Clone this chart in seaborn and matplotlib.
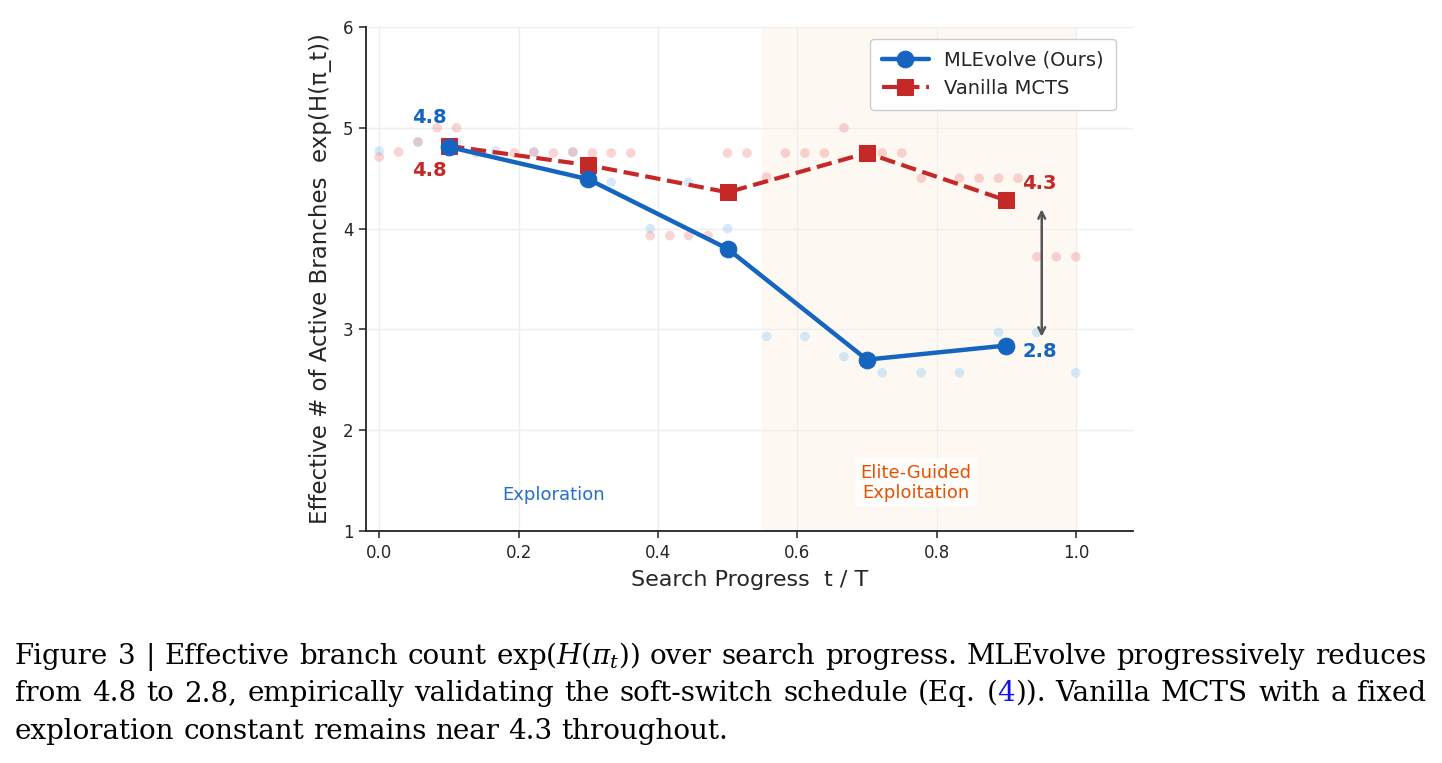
import numpy as np
import pandas as pd
import matplotlib
matplotlib.use("Agg")
import matplotlib.pyplot as plt
import seaborn as sns

# ---------------- data ----------------
checkpoints = [0.1, 0.3, 0.5, 0.7, 0.9]
mlevolve_mean = [4.81, 4.49, 3.80, 2.70, 2.84]
mcts_mean = [4.82, 4.63, 4.36, 4.75, 4.28]

mlevolve_run_x = [0.0, 0.0556, 0.111, 0.167, 0.222, 0.278, 0.333, 0.389, 0.444, 0.5,
                  0.556, 0.611, 0.667, 0.722, 0.778, 0.833, 0.889, 0.944, 1.0]
mlevolve_run_y = [4.77, 4.86, 4.86, 4.77, 4.76, 4.76, 4.46, 4.00, 4.46, 4.00,
                  2.93, 2.93, 2.73, 2.57, 2.57, 2.57, 2.97, 2.97, 2.57]

mcts_run_x = [0.0, 0.0278, 0.0556, 0.0833, 0.111, 0.139, 0.194, 0.222, 0.25, 0.278,
              0.306, 0.333, 0.361, 0.389, 0.417, 0.444, 0.472, 0.5, 0.528, 0.556,
              0.583, 0.611, 0.639, 0.667, 0.722, 0.75, 0.778, 0.833, 0.861, 0.889,
              0.917, 0.944, 0.972, 1.0]
mcts_run_y = [4.71, 4.76, 4.86, 5.00, 5.00, 4.75, 4.75, 4.76, 4.75, 4.76,
              4.75, 4.75, 4.75, 3.93, 3.93, 3.93, 3.93, 4.75, 4.75, 4.51,
              4.75, 4.75, 4.75, 5.00, 4.75, 4.75, 4.50, 4.50, 4.50, 4.50,
              4.50, 3.72, 3.72, 3.72]

series_names = ["MLEvolve (Ours)", "Vanilla MCTS"]
start_labels = ["4.8", "4.8"]
end_labels = ["2.8", "4.3"]
x_ticks = [0.0, 0.2, 0.4, 0.6, 0.8, 1.0]
y_ticks = [1, 2, 3, 4, 5, 6]

BLUE = "#1565C0"
RED = "#C62828"

sns.set_theme(style="whitegrid")
plt.rcParams["font.family"] = ["DejaVu Sans"]
plt.rcParams["mathtext.fontset"] = "dejavuserif"

fig = plt.figure(figsize=(14.42, 7.63), dpi=100)
ax = fig.add_axes([366 / 1442, 1 - 531 / 763, (1133 - 366) / 1442, (531 - 27) / 763])
ax.set_facecolor("white")

# shaded exploitation region
ax.axvspan(0.55, 1.0, color="#FDF3E6", alpha=0.55, lw=0, zorder=0)

# faint per-step points
df_b = pd.DataFrame({"x": mlevolve_run_x, "y": mlevolve_run_y})
df_r = pd.DataFrame({"x": mcts_run_x, "y": mcts_run_y})
sns.scatterplot(data=df_b, x="x", y="y", color="#90CAF9", alpha=0.38, s=48,
                edgecolor="none", ax=ax, zorder=2, legend=False)
sns.scatterplot(data=df_r, x="x", y="y", color="#EF9A9A", alpha=0.42, s=48,
                edgecolor="none", ax=ax, zorder=2, legend=False)

# main lines
df_m = pd.DataFrame({"x": checkpoints, "y": mlevolve_mean})
df_v = pd.DataFrame({"x": checkpoints, "y": mcts_mean})
sns.lineplot(data=df_m, x="x", y="y", color=BLUE, marker="o", markersize=12,
             markeredgecolor=BLUE, linewidth=3.2, label=series_names[0], ax=ax, zorder=5)
sns.lineplot(data=df_v, x="x", y="y", color=RED, marker="s", markersize=11,
             markeredgecolor=RED, linewidth=3.0, linestyle="--", label=series_names[1],
             ax=ax, zorder=4)

# value labels
ax.text(checkpoints[0] - 0.028, mlevolve_mean[0] + 0.29, start_labels[0], color=BLUE,
        fontsize=14, fontweight="bold", ha="center", va="center")
ax.text(checkpoints[0] - 0.028, mcts_mean[0] - 0.24, start_labels[1], color=RED,
        fontsize=14, fontweight="bold", ha="center", va="center")
ax.text(checkpoints[-1] + 0.023, mcts_mean[-1] + 0.17, end_labels[1], color=RED,
        fontsize=14, fontweight="bold", ha="left", va="center")
ax.text(checkpoints[-1] + 0.023, mlevolve_mean[-1] - 0.06, end_labels[0], color=BLUE,
        fontsize=14, fontweight="bold", ha="left", va="center")

# gap arrow
ax.annotate("", xy=(0.951, 2.9), xytext=(0.951, 4.22),
            arrowprops=dict(arrowstyle="<->", color="#555555", lw=1.8), zorder=6)

# phase labels
ax.text(0.25, 1.36, "Exploration", color="#1E6FD0", fontsize=13, ha="center", va="center")
ax.text(0.77, 1.48, "Elite-Guided\nExploitation", color="#E65100", fontsize=13,
        ha="center", va="center", linespacing=1.15,
        bbox=dict(boxstyle="square,pad=0.3", fc="white", ec="none", alpha=0.8))

# axes styling
ax.set_xlim(-0.019, 1.082)
ax.set_ylim(1, 6)
ax.set_xticks(x_ticks)
ax.set_xticklabels([f"{t:.1f}" for t in x_ticks])
ax.set_yticks(y_ticks)
ax.set_yticklabels([str(t) for t in y_ticks])
ax.tick_params(axis="both", labelsize=12, length=5, width=1.1, color="#222222",
               left=True, bottom=True, direction="out", pad=4)
ax.grid(True, color="#EEEEEE", lw=1)
for s in ["top", "right"]:
    ax.spines[s].set_visible(False)
for s in ["left", "bottom"]:
    ax.spines[s].set_visible(True)
    ax.spines[s].set_color("#222222")
    ax.spines[s].set_linewidth(1.3)
ax.set_xlabel("Search Progress  t / T", fontsize=16, labelpad=6)
ax.set_ylabel("Effective # of Active Branches  exp(H(π_t))", fontsize=16.5, labelpad=8)

leg = ax.legend(loc="upper right", fontsize=14, frameon=True, fancybox=True,
                edgecolor="#CCCCCC", framealpha=1.0, borderpad=0.6,
                handlelength=2.4, bbox_to_anchor=(0.99, 0.996))

# ---------------- caption ----------------
cap_font = dict(family="DejaVu Serif", fontsize=20)
renderer = fig.canvas.get_renderer()

def seg_width(txt):
    t = fig.text(0, 0, txt, **cap_font)
    w = t.get_window_extent(renderer).width
    t.remove()
    return w

space_w = seg_width("a a") - seg_width("aa")

def draw_line(words, ypix, justify, x0=15, x1=1426):
    widths = [sum(seg_width(s) for s, _ in w) for w in words]
    total = sum(widths)
    if justify and len(words) > 1:
        gap = (x1 - x0 - total) / (len(words) - 1)
    else:
        gap = space_w
    x = x0
    for w, wd in zip(words, widths):
        xx = x
        for s, c in w:
            fig.text(xx / 1442, 1 - ypix / 763, s, color=c, ha="left",
                     va="baseline", **cap_font)
            xx += seg_width(s)
        x += wd + gap

def plain(line):
    return [[(w, "black")] for w in line.split(" ")]

line1 = plain("Figure 3 | Effective branch count") + [[(r"exp$(H(\pi_t))$", "black")]] + \
    plain("over search progress. MLEvolve progressively reduces")
line2 = plain("from 4.8 to 2.8, empirically validating the soft-switch schedule (Eq.") + \
    [[("(", "black"), ("4", "#1010EE"), (")).", "black")]] + plain("Vanilla MCTS with a fixed")
line3 = plain("exploration constant remains near 4.3 throughout.")

draw_line(line1, 664, True)
draw_line(line2, 701, True)
draw_line(line3, 739, False)

fig.savefig("out.png", dpi=100, facecolor="white")
